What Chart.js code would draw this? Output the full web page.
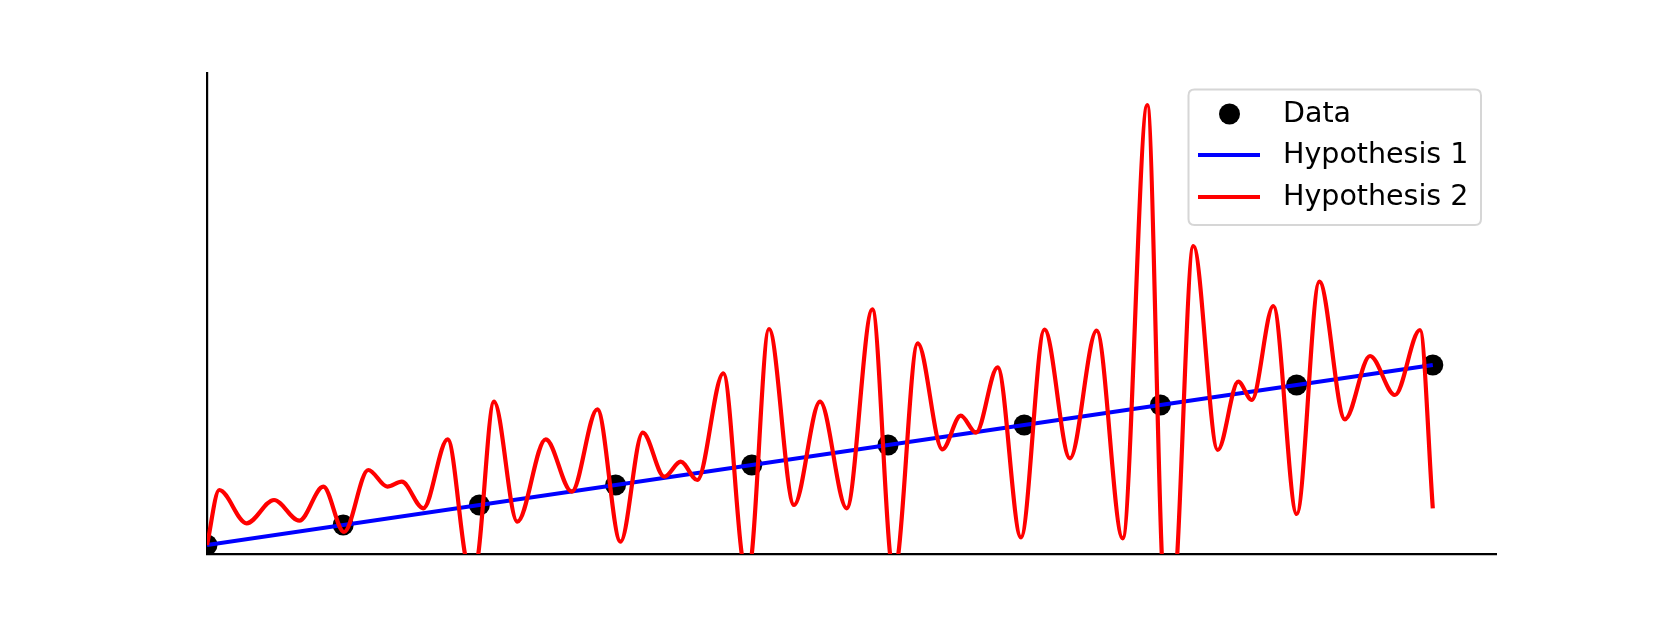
<!DOCTYPE html>
<html>
<head>
<meta charset="utf-8">
<script src="https://cdn.jsdelivr.net/npm/chart.js@4.4.1/dist/chart.umd.min.js"></script>
<style>
  html, body { margin: 0; padding: 0; background: #ffffff; }
  #wrap { width: 1661px; height: 623px; position: relative; }
</style>
</head>
<body>
<div id="wrap"><canvas id="c" width="1661" height="623"></canvas></div>
<script>
// ---- Data ----
const dataX = [0, 1, 2, 3, 4, 5, 6, 7, 8, 9];
const dataY = [0.45, 1.45, 2.45, 3.45, 4.45, 5.45, 6.45, 7.45, 8.45, 9.45];

const hyp1X = [0, 9];
const hyp1Y = [0.45, 9.45];

const hyp2X = [0, 0.090, 0.291, 0.492, 0.678, 0.854, 1.006, 1.184, 1.324, 1.430,
  1.588, 1.767, 1.894, 1.943, 1.992, 2.107, 2.278, 2.487, 2.678, 2.866,
  3.036, 3.199, 3.358, 3.478, 3.600, 3.791, 3.926, 3.963, 4.000, 4.126,
  4.310, 4.501, 4.697, 4.885, 5.015, 5.044, 5.076, 5.218, 5.399, 5.534,
  5.646, 5.805, 5.976, 6.149, 6.336, 6.532, 6.723, 6.904, 7.010, 7.067,
  7.124, 7.242, 7.421, 7.572, 7.671, 7.829, 8.001, 8.167, 8.355, 8.539,
  8.722, 8.906, 9.0];
const hyp2Y = [0.45, 3.2, 1.535, 2.7, 1.665, 3.365, 1.1, 4.2, 3.365, 3.615,
  2.285, 5.735, 0, -1.55, 0, 7.615, 1.615, 5.735, 3.115, 7.235,
  0.615, 6.065, 3.865, 4.615, 3.7, 9.035, 0, -1.2, 0, 11.25,
  2.45, 7.615, 2.285, 12.235, 0, -1.0, 0, 10.535, 5.235, 6.915,
  6.065, 9.335, 0.835, 11.225, 4.785, 11.165, 0.785, 22.45, 0, -6.3,
  0, 15.4, 5.2, 8.615, 7.7, 12.4, 2.0, 13.615, 6.735, 9.9,
  7.95, 11.2, 2.285];

const seriesLabels = ['Data', 'Hypothesis 1', 'Hypothesis 2'];
const xRange = [0, 9.464];
const yRange = [0, 24.05];

const toPoints = (xs, ys) => xs.map((x, i) => ({ x: x, y: ys[i] }));

// ---- matplotlib-like legend drawn inside the plot area ----
const mplLegend = {
  id: 'mplLegend',
  afterDraw(chart) {
    const ctx = chart.ctx;
    const ds = chart.data.datasets;
    const bx = 1188.5, by = 89.5, bw = 292.5, bh = 135.5, r = 6;
    ctx.save();
    ctx.beginPath();
    ctx.moveTo(bx + r, by);
    ctx.lineTo(bx + bw - r, by);
    ctx.quadraticCurveTo(bx + bw, by, bx + bw, by + r);
    ctx.lineTo(bx + bw, by + bh - r);
    ctx.quadraticCurveTo(bx + bw, by + bh, bx + bw - r, by + bh);
    ctx.lineTo(bx + r, by + bh);
    ctx.quadraticCurveTo(bx, by + bh, bx, by + bh - r);
    ctx.lineTo(bx, by + r);
    ctx.quadraticCurveTo(bx, by, bx + r, by);
    ctx.closePath();
    ctx.fillStyle = 'rgba(255,255,255,0.8)';
    ctx.fill();
    ctx.strokeStyle = '#d6d6d6';
    ctx.lineWidth = 2;
    ctx.stroke();

    const rowsY = [114, 155, 197];
    ctx.font = '28.5px "DejaVu Sans"';
    ctx.textBaseline = 'middle';
    ctx.textAlign = 'left';
    ds.forEach((d, i) => {
      const yy = rowsY[i];
      if (d.showLine === false) {
        ctx.beginPath();
        ctx.arc(1229.5, yy, d.pointRadius, 0, Math.PI * 2);
        ctx.fillStyle = d.backgroundColor;
        ctx.fill();
      } else {
        ctx.beginPath();
        ctx.moveTo(1198, yy);
        ctx.lineTo(1260, yy);
        ctx.strokeStyle = d.borderColor;
        ctx.lineWidth = d.borderWidth;
        ctx.stroke();
      }
      ctx.fillStyle = '#000000';
      ctx.fillText(d.label, 1283, yy + 1);
    });
    ctx.restore();
  }
};

new Chart(document.getElementById('c'), {
  type: 'line',
  data: {
    datasets: [
      {
        label: seriesLabels[0],
        data: toPoints(dataX, dataY),
        showLine: false,
        pointRadius: 10.5,
        pointBackgroundColor: '#000000',
        pointBorderWidth: 0,
        backgroundColor: '#000000',
        borderColor: '#000000',
        clip: 0,
        order: 3
      },
      {
        label: seriesLabels[1],
        data: toPoints(hyp1X, hyp1Y),
        borderColor: '#0000ff',
        borderWidth: 4.2,
        pointRadius: 0,
        fill: false,
        clip: 0,
        order: 2
      },
      {
        label: seriesLabels[2],
        data: toPoints(hyp2X, hyp2Y),
        borderColor: '#ff0000',
        borderWidth: 4.2,
        pointRadius: 0,
        fill: false,
        cubicInterpolationMode: 'monotone',
        capBezierPoints: false,
        clip: 0,
        order: 1
      }
    ]
  },
  options: {
    responsive: false,
    animation: false,
    events: [],
    layout: { padding: { left: 207, top: 73, right: 165, bottom: 69 } },
    plugins: {
      legend: { display: false },
      tooltip: { enabled: false },
      title: { display: false }
    },
    scales: {
      x: {
        type: 'linear',
        min: xRange[0],
        max: xRange[1],
        z: 1,
        ticks: { display: false },
        grid: { display: false, drawTicks: false },
        border: { display: true, color: '#000000', width: 2.2 }
      },
      y: {
        type: 'linear',
        min: yRange[0],
        max: yRange[1],
        z: 1,
        ticks: { display: false },
        grid: { display: false, drawTicks: false },
        border: { display: true, color: '#000000', width: 2.2 }
      }
    }
  },
  plugins: [mplLegend]
});
</script>
</body>
</html>
